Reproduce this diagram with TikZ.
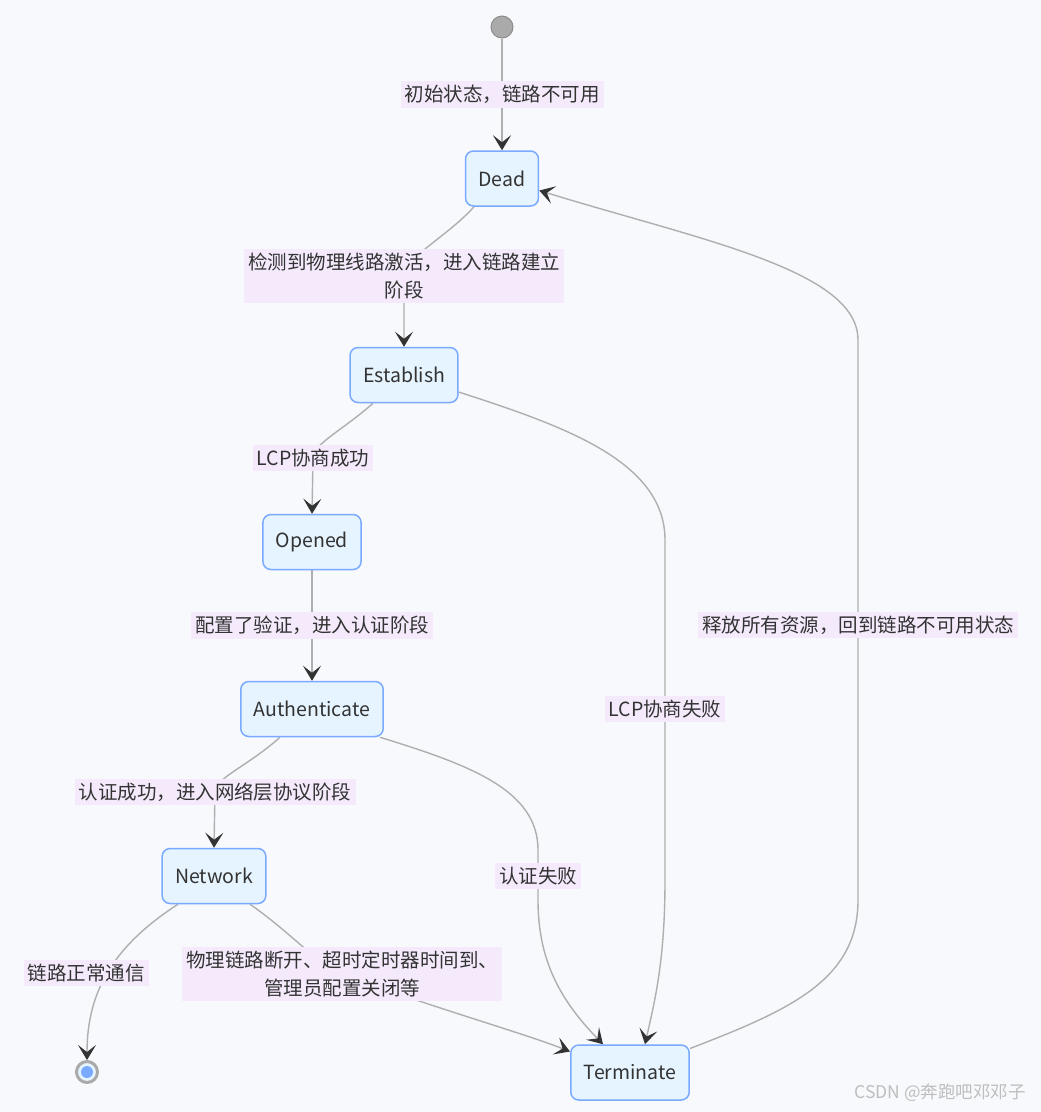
\documentclass[tikz,border=0pt]{standalone}
\usepackage{fontspec}
\setmainfont{Noto Sans CJK SC}
\usetikzlibrary{arrows.meta,backgrounds,positioning}
\definecolor{pagebg}{RGB}{248,249,252}
\definecolor{statefill}{RGB}{230,244,255}
\definecolor{stateline}{RGB}{122,170,255}
\definecolor{labelbg}{RGB}{244,234,252}
\definecolor{edgeline}{RGB}{175,175,175}
\definecolor{tipcol}{RGB}{51,51,51}
\definecolor{textcol}{RGB}{51,51,51}
\definecolor{startgray}{RGB}{170,170,170}
\definecolor{markgray}{RGB}{190,190,190}

\begin{document}
\begin{tikzpicture}[x=1pt,y=-1pt,font=\fontsize{19.5}{28}\selectfont]
      \tikzstyle{state} = [rectangle, rounded corners=8pt, draw=stateline, line width=1.5pt, fill=statefill, minimum height=55pt, inner xsep=13pt, text=textcol]
      \tikzstyle{cond} = [fill=labelbg, inner xsep=4pt, inner ysep=4pt, align=center, text=textcol]
      \tikzstyle{edge} = [draw=edgeline, line width=1.4pt, -{Stealth[length=15pt,width=18pt,inset=7pt,color=tipcol]}]

      \useasboundingbox (0,0) rectangle (1041,1112);

      \node[circle, fill=startgray, draw=gray!90, line width=1pt, minimum size=22pt, inner sep=0pt] (start) at (502,27) {};
      \node[state] (dead) at (502,178.5) {Dead};
      \node[state] (establish) at (404,375) {Establish};
      \node[state] (opened) at (312,542) {Opened};
      \node[state] (authenticate) at (312,709) {Authenticate};
      \node[state] (network) at (214,876) {Network};
      \node[state] (terminate) at (630,1072.5) {Terminate};
      \node[circle, draw=startgray, line width=3pt, fill=statefill, minimum size=21pt, inner sep=0pt] (finish) at (87,1072) {};
      \node[circle, fill=stateline, minimum size=12pt, inner sep=0pt] (finishdot) at (finish) {};

      \node[text=markgray, font=\fontsize{17.5}{20}\selectfont] (mark) at (940,1093) {CSDN @奔跑吧邓邓子};

      \begin{scope}[on background layer]
        \fill[pagebg] (0,0) rectangle (1041,1112);

        \draw[edge] (start) -- (dead) node[cond, midway] (l1) {初始状态，链路不可用};
        \draw[edge] ([xshift=-28pt]dead.south) .. controls (448,236) and (404,258) .. (404,276)
          node[cond] (l2) {检测到物理线路激活，进入链路建立\\阶段} -- (establish.north);
        \draw[edge] ([xshift=-31pt]establish.south) .. controls (343,430) and (313,444) .. (313,458)
          node[cond] (l3) {LCP协商成功} -- (opened.north);
        \draw[edge] (opened) -- (authenticate) node[cond, midway] (l4) {配置了验证，进入认证阶段};
        \draw[edge] ([xshift=-32pt]authenticate.south) .. controls (248,766) and (215,778) .. (215,792)
          node[cond] (l5) {认证成功，进入网络层协议阶段} -- (network.north);
        \draw[edge] ([xshift=-36pt]network.south) .. controls (115,945) and (87,990) .. (finish.north);
        \node[cond] (l6) at (86,973) {链路正常通信};
        \draw[edge] ([xshift=36pt]network.south) .. controls (290,932) and (315,962) .. (342,974)
          node[cond] (l7) {物理链路断开、超时定时器时间到、\\管理员配置关闭等}
          .. controls (440,1010) and (520,1032) .. ([yshift=21pt]terminate.west);
        \draw[edge] ([xshift=-4pt]authenticate.south east) .. controls (470,765) and (538,790) .. (538,850)
          -- (538,876) node[cond] (l8) {认证失败}
          -- (538,900) .. controls (538,960) and (560,1000) .. ([xshift=-27pt]terminate.north);
        \draw[edge] ([yshift=-17pt]establish.east) .. controls (560,425) and (665,460) .. (665,540)
          -- (665,709) node[cond] (l9) {LCP协商失败}
          -- (665,880) .. controls (665,960) and (655,1000) .. ([xshift=15pt]terminate.north);
        \draw[edge] ([yshift=24pt]terminate.east) .. controls (790,1010) and (858,980) .. (858,900)
          -- (858,625) node[cond] (l10) {释放所有资源，回到链路不可用状态}
          -- (858,340) .. controls (858,270) and (700,240) .. ([yshift=-12pt]dead.east);
      \end{scope}
\end{tikzpicture}
\end{document}
